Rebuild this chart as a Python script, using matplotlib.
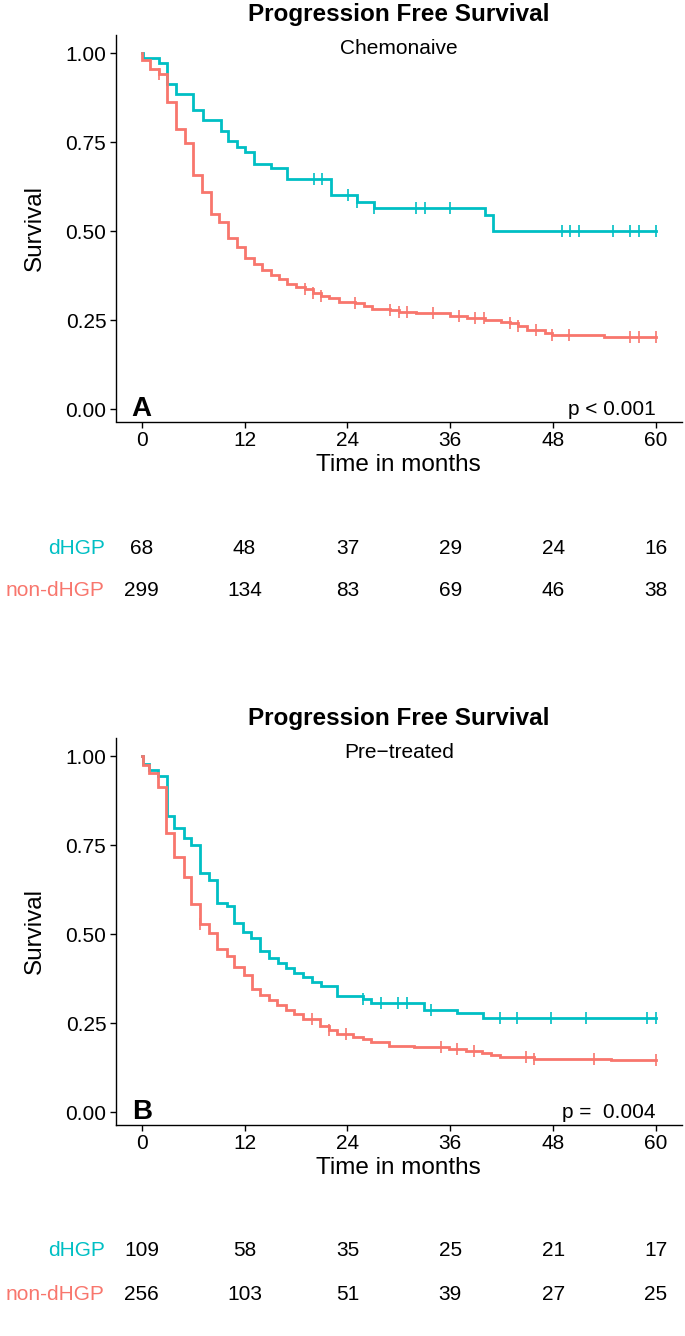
import numpy as np
import matplotlib
matplotlib.use("Agg")
import matplotlib.pyplot as plt
from matplotlib.transforms import blended_transform_factory

plt.rcParams['font.family'] = ['Liberation Sans', 'DejaVu Sans']

# Colours (ggplot defaults)
col_dhgp = "#00BFC4"
col_non = "#F8766D"

# Panel A - Chemonaive
a_dhgp_times = [0.1, 2.0, 3.0, 4.0, 6.0, 7.1, 9.2, 10.1, 11.1, 12.1, 13.1, 15.1, 17.0,
                22.1, 25.1, 27.1, 40.0, 41.0]
a_dhgp_surv = [0.985, 0.971, 0.913, 0.885, 0.840, 0.812, 0.782, 0.753, 0.735, 0.721,
               0.688, 0.677, 0.646, 0.600, 0.581, 0.564, 0.544, 0.500]
a_dhgp_cens = [20.1, 21.0, 24.1, 25.1, 27.1, 32.0, 33.0, 36.0, 49.0, 50.0, 51.0, 55.0,
               57.0, 58.0, 60.0]

a_non_times = [0.05, 1.0, 2.0, 2.9, 4.0, 5.0, 6.0, 7.0, 8.1, 9.0, 10.1, 11.1, 12.1, 13.1,
               14.0, 15.1, 16.0, 17.0, 18.0, 19.0, 20.0, 20.9, 21.9, 23.0, 24.9, 25.9,
               26.9, 29.0, 30.0, 31.0, 32.0, 36.0, 37.9, 40.0, 41.9, 43.0, 43.9, 44.9,
               47.0, 47.9, 53.9]
a_non_surv = [0.980, 0.955, 0.940, 0.863, 0.787, 0.746, 0.657, 0.609, 0.548, 0.524,
              0.481, 0.454, 0.425, 0.406, 0.390, 0.376, 0.364, 0.350, 0.344, 0.337,
              0.325, 0.317, 0.313, 0.300, 0.297, 0.289, 0.280, 0.278, 0.273, 0.272,
              0.269, 0.262, 0.257, 0.250, 0.245, 0.241, 0.234, 0.222, 0.213, 0.208, 0.203]
a_non_cens = [2.0, 19.0, 20.0, 20.9, 24.9, 29.0, 30.0, 31.0, 34.0, 37.0, 38.9, 39.9,
              43.0, 43.9, 46.0, 47.9, 49.9, 57.0, 58.0, 60.0]

# Panel B - Pre-treated
b_dhgp_times = [0.1, 0.9, 1.9, 2.9, 3.8, 4.9, 5.8, 6.8, 7.9, 8.8, 9.9, 10.8, 11.8, 12.8,
                13.8, 14.9, 15.9, 16.8, 17.8, 18.8, 19.9, 20.9, 22.8, 25.8, 26.8, 32.9,
                36.8, 39.8]
b_dhgp_surv = [0.978, 0.961, 0.944, 0.831, 0.797, 0.769, 0.750, 0.670, 0.652, 0.586,
               0.580, 0.532, 0.506, 0.488, 0.452, 0.434, 0.419, 0.405, 0.390, 0.380,
               0.366, 0.354, 0.326, 0.317, 0.307, 0.287, 0.277, 0.265]
b_dhgp_cens = [25.8, 27.9, 29.9, 30.9, 33.8, 41.8, 43.8, 47.8, 51.8, 58.9, 60.0]

b_non_times = [0.1, 0.9, 1.9, 2.8, 3.8, 4.9, 5.8, 6.8, 7.9, 8.8, 9.9, 10.8, 11.9, 12.9,
               13.8, 14.8, 15.8, 16.8, 17.8, 18.8, 20.8, 21.8, 22.8, 24.7, 25.8, 26.8,
               28.8, 31.8, 35.9, 37.8, 39.7, 40.8, 41.8, 45.8, 54.8]
b_non_surv = [0.975, 0.951, 0.914, 0.783, 0.717, 0.659, 0.584, 0.527, 0.502, 0.457,
              0.438, 0.408, 0.385, 0.345, 0.330, 0.315, 0.300, 0.287, 0.274, 0.260,
              0.242, 0.230, 0.219, 0.212, 0.206, 0.196, 0.186, 0.182, 0.177, 0.172,
              0.165, 0.159, 0.154, 0.150, 0.145]
b_non_cens = [6.8, 19.9, 21.8, 23.8, 34.9, 36.8, 38.8, 44.8, 45.8, 52.8, 60.0]

# Numbers at risk
risk_times = [0, 12, 24, 36, 48, 60]
a_risk_dhgp = [68, 48, 37, 29, 24, 16]
a_risk_non = [299, 134, 83, 69, 46, 38]
b_risk_dhgp = [109, 58, 35, 25, 21, 17]
b_risk_non = [256, 103, 51, 39, 27, 25]

W, H = 685, 1336
fig = plt.figure(figsize=(W / 100, H / 100), dpi=100)


def add_px_axes(left, top, right, bottom):
    return fig.add_axes([left / W, 1 - bottom / H, (right - left) / W, (bottom - top) / H])


def km_line(ax, times, surv, cens, color):
    t = [0] + list(times) + [60]
    s = [1.0] + list(surv) + [surv[-1]]
    ax.step(t, s, where='post', color=color, lw=2.0, solid_joinstyle='miter')
    levels = np.array([1.0] + list(surv))
    idx = np.searchsorted(np.array(times), np.array(cens), side='right')
    ax.plot(cens, levels[idx], ls='none', marker='|', ms=8.5, mew=1.2, color=color)


def panel(off, subtitle, letter, pval, dh, nd, risk_d, risk_n):
    ax = add_px_axes(116, 35.2 + off, 681.7, 421.5 + off)
    km_line(ax, dh[0], dh[1], dh[2], col_dhgp)
    km_line(ax, nd[0], nd[1], nd[2], col_non)
    ax.set_xlim(-3, 63)
    ax.set_ylim(-0.035, 1.05)
    ax.set_xticks(risk_times)
    ax.set_yticks([0, 0.25, 0.5, 0.75, 1.0])
    ax.set_yticklabels(['0.00', '0.25', '0.50', '0.75', '1.00'])
    for sp in ['top', 'right']:
        ax.spines[sp].set_visible(False)
    for sp in ['left', 'bottom']:
        ax.spines[sp].set_linewidth(1.0)
    ax.tick_params(labelsize=15, length=4, width=1.0, colors='black', pad=3)
    ax.set_xlabel('Time in months', fontsize=17.5, labelpad=3)
    ax.set_ylabel('Survival', fontsize=17.5, labelpad=14)

    ax.text(0, 0, letter, fontsize=20, fontweight='bold', ha='center', va='center')
    ax.text(60, 0, pval, fontsize=15, ha='right', va='center')

    fig.text(399 / W, 1 - (15 + off) / H, 'Progression Free Survival', fontsize=17.5,
             fontweight='bold', ha='center', va='center')
    fig.text(399 / W, 1 - (49 + off) / H, subtitle, fontsize=15, ha='center', va='center')

    tr = blended_transform_factory(ax.transData, fig.transFigure)
    y1 = 1 - (548 + off) / H
    y2 = 1 - (591 + off) / H
    ax.text(-4.3, y1, 'dHGP', color=col_dhgp, fontsize=15, ha='right', va='center', transform=tr)
    ax.text(-4.3, y2, 'non-dHGP', color=col_non, fontsize=15, ha='right', va='center', transform=tr)
    for t, a, b in zip(risk_times, risk_d, risk_n):
        ax.text(t, y1, str(a), fontsize=15, ha='center', va='center', transform=tr)
        ax.text(t, y2, str(b), fontsize=15, ha='center', va='center', transform=tr)
    return ax


panel(0, 'Chemonaive', 'A', 'p < 0.001',
      (a_dhgp_times, a_dhgp_surv, a_dhgp_cens), (a_non_times, a_non_surv, a_non_cens),
      a_risk_dhgp, a_risk_non)
panel(703, 'Pre\u2212treated', 'B', 'p =  0.004',
      (b_dhgp_times, b_dhgp_surv, b_dhgp_cens), (b_non_times, b_non_surv, b_non_cens),
      b_risk_dhgp, b_risk_non)

fig.savefig('out.png', dpi=100)
